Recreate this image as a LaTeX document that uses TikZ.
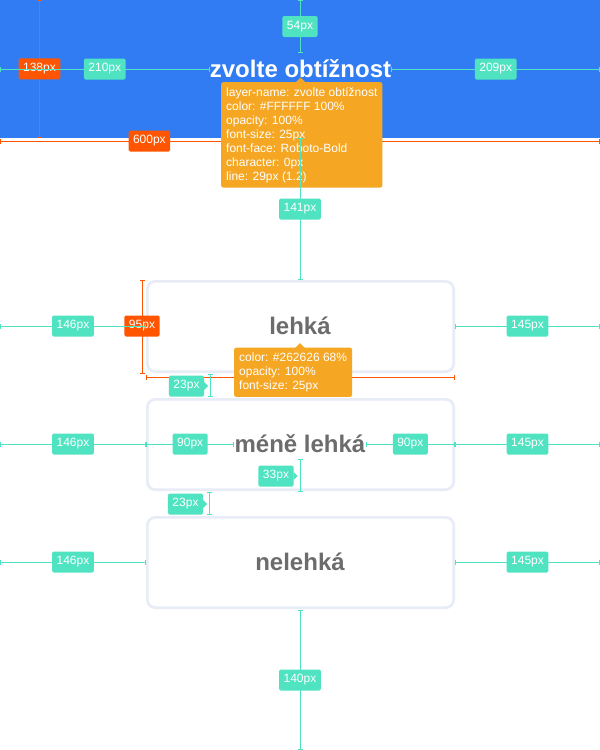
\documentclass[tikz,border=0pt]{standalone}
\usepackage{fontspec}
\setmainfont{Liberation Sans}
\usetikzlibrary{arrows.meta,calc}
\definecolor{hdr}{RGB}{49,124,243}
\definecolor{meas}{RGB}{80,227,194}
\definecolor{ormeas}{RGB}{255,85,0}
\definecolor{tipc}{RGB}{245,166,35}
\definecolor{boxline}{RGB}{232,236,247}
\definecolor{itemtxt}{RGB}{108,108,108}
\begin{document}
\begin{tikzpicture}[x=1pt,y=-1pt,
  gdim/.style={draw=meas,line width=1pt,{Bar[width=5pt]}-{Bar[width=5pt]}},
  odim/.style={draw=ormeas,line width=1pt,{Bar[width=5pt]}-{Bar[width=5pt]}},
  glabel/.style={fill=meas,text=white,rounded corners=1.5pt,inner xsep=4.5pt,inner ysep=0pt,
    minimum height=21pt,font=\fontsize{12}{14}\selectfont},
  olabel/.style={glabel,fill=ormeas},
  itembox/.style={draw=boxline,line width=2.7pt,rounded corners=8pt,fill=white,
    minimum width=306.3pt,minimum height=90.3pt},
  itemtext/.style={text=itemtxt,inner sep=0pt,font=\fontsize{24}{29}\bfseries\selectfont},
  ttlstyle/.style={text=white,inner sep=0pt,font=\fontsize{24}{29}\bfseries\selectfont},
  tipbox/.style={fill=tipc,text=white,rounded corners=2pt,inner xsep=5pt,inner ysep=5pt,
    align=left,font=\fontsize{12}{14}\selectfont}
]
\useasboundingbox (0,0) rectangle (600,750);
\fill[white] (0,0) rectangle (600,750);
\fill[hdr] (0,0) rectangle (600,138);

% boxes
\node[itembox] (b1) at (300.5,326.5) {};
\node[itembox] (b2) at (300.5,444.5) {};
\node[itembox] (b3) at (300.5,562.5) {};

% texts
\node[ttlstyle] (ttl) at (300.5,69) {zvolte obtížnost};
\node[itemtext] (t1) at (300,326) {lehká};
\node[itemtext] (t2) at (300,444) {méně lehká};
\node[itemtext] (t3) at (300,562) {nelehká};

% orange measurements
\coordinate (o1a) at (39.5,0);
\coordinate (o1b) at (39.5,137.5);
\draw[odim] (o1a) -- node[olabel] (l138) {138px} (o1b);
\coordinate (o2a) at (0,141);
\coordinate (o2b) at (600,141);
\draw[odim] (o2a) -- node[olabel,pos=.249] (l600) {600px} (o2b);
\coordinate (o3a) at (142.5,279.5);
\coordinate (o3b) at (142.5,373.5);
\draw[odim] (o3a) -- (o3b);
\node[olabel] (l95) at (142,326) {95px};
\coordinate (o4a) at (146,377.5);
\coordinate (o4b) at (455,377.5);
\draw[odim] (o4a) -- (o4b);

% tooltips
\node[tipbox,anchor=north west] (tip1) at (221,82)
  {layer-name: zvolte obtížnost\\color: \#FFFFFF 100\%\\opacity: 100\%\\font-size: 25px\\font-face: Roboto-Bold\\character: 0px\\line: 29px (1.2)};
\fill[tipc] ($(tip1.north -| ttl.center)+(-5,0.5)$) -- ($(tip1.north -| ttl.center)+(0,-4.5)$) -- ($(tip1.north -| ttl.center)+(5,0.5)$) -- cycle;
\node[tipbox,anchor=north west] (tip2) at (234,347.5)
  {color: \#262626 68\%\\opacity: 100\%\\font-size: 25px};
\fill[tipc] ($(tip2.north -| t1.center)+(-5,0.5)$) -- ($(tip2.north -| t1.center)+(0,-4.5)$) -- ($(tip2.north -| t1.center)+(5,0.5)$) -- cycle;

% green measurements: header
\coordinate (hl) at (0,69);
\coordinate (hr) at (600,69);
\draw[gdim] (hl) -- node[glabel] (l210) {210px} (ttl.west);
\draw[gdim] (ttl.east) -- node[glabel] (l209) {209px} (hr);
\coordinate (h54a) at (300,0);
\coordinate (h54b) at (300,53);
\draw[gdim] (h54a) -- node[glabel] (l54) {54px} (h54b);
\coordinate (h141a) at (300,138);
\draw[gdim] (h141a) -- node[glabel] (l141) {141px} (b1.north -| h141a);

% box 1
\coordinate (w1) at (0,326);
\coordinate (e1) at (600,326);
\draw[gdim] (w1) -- node[glabel] (l146a) {146px} (b1.west |- w1);
\draw[gdim] (b1.east |- e1) -- node[glabel] (l145a) {145px} (e1);

% gap 1
\coordinate (g1a) at (210,374);
\coordinate (g1b) at (210,397);
\draw[gdim] (g1a) -- (g1b);
\node[glabel] (l23a) at (186.5,386) {23px};
\fill[meas] ($(l23a.east)+(0,-4)$) -- ($(l23a.east)+(4,0)$) -- ($(l23a.east)+(0,4)$) -- cycle;

% box 2
\coordinate (w2) at (0,444);
\coordinate (e2) at (600,444);
\draw[gdim] (w2) -- node[glabel] (l146b) {146px} (b2.west |- w2);
\draw[gdim] (b2.east |- e2) -- node[glabel] (l145b) {145px} (e2);
\draw[gdim] (b2.west |- w2) -- node[glabel] (l90a) {90px} (t2.west |- w2);
\draw[gdim] (t2.east |- e2) -- node[glabel] (l90b) {90px} (b2.east |- e2);
\coordinate (v33a) at (300,459);
\coordinate (v33b) at (300,492);
\draw[gdim] (v33a) -- (v33b);
\node[glabel] (l33) at (276,476) {33px};
\fill[meas] ($(l33.east)+(0,-4)$) -- ($(l33.east)+(4,0)$) -- ($(l33.east)+(0,4)$) -- cycle;

% gap 2
\coordinate (g2a) at (209,492);
\coordinate (g2b) at (209,515);
\draw[gdim] (g2a) -- (g2b);
\node[glabel] (l23b) at (185.5,504) {23px};
\fill[meas] ($(l23b.east)+(0,-4)$) -- ($(l23b.east)+(4,0)$) -- ($(l23b.east)+(0,4)$) -- cycle;

% box 3
\coordinate (w3) at (0,562);
\coordinate (e3) at (600,562);
\draw[gdim] (w3) -- node[glabel] (l146c) {146px} (b3.west |- w3);
\draw[gdim] (b3.east |- e3) -- node[glabel] (l145c) {145px} (e3);
\coordinate (v140a) at (300,610);
\coordinate (v140b) at (300,750);
\draw[gdim] (v140a) -- node[glabel] (l140) {140px} (v140b);
\end{tikzpicture}
\end{document}
